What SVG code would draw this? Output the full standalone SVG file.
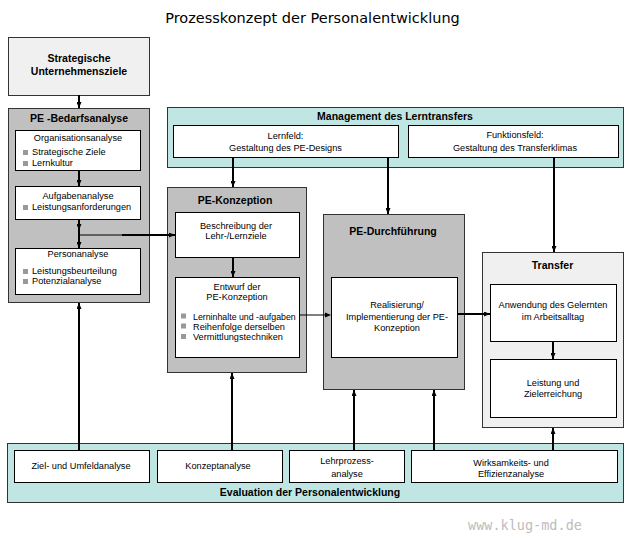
<svg xmlns="http://www.w3.org/2000/svg" width="632" height="539" viewBox="0 0 632 539">
<style>
.t{font-family:"Liberation Sans",Arial,sans-serif;font-size:9.2px;fill:#000}
.c{text-anchor:middle}
.b{font-family:"Liberation Sans",Arial,sans-serif;font-size:10.5px;font-weight:bold;fill:#000;text-anchor:middle}
.dk{fill:#c0c0c0;stroke:#333;stroke-width:1}
.lt{fill:#f0f0f0;stroke:#333;stroke-width:1}
.tl{fill:#c0e6e4;stroke:#333;stroke-width:1}
.wh{fill:#fff;stroke:#000;stroke-width:1}
.bu{fill:#999}
.a{fill:none;stroke:#000;stroke-width:2;marker-end:url(#ah)}
.n{fill:none;stroke:#000;stroke-width:1}
</style>
<defs>
<marker id="ah" markerUnits="userSpaceOnUse" markerWidth="6" markerHeight="5" refX="6" refY="2.5" orient="auto">
<path d="M0,0 L6,2.5 L0,5 z" fill="#000"/>
</marker>
</defs>
<rect width="632" height="539" fill="#fff"/>
<text x="312.5" y="23" style="font-family:'DejaVu Sans',Verdana,sans-serif;font-size:14.5px;text-anchor:middle;fill:#000">Prozesskonzept der Personalentwicklung</text>

<g id="strategische-ziele">
<rect class="lt" x="8.5" y="37.5" width="141" height="58"/>
<text class="b" x="79" y="61.5">Strategische</text>
<text class="b" x="79" y="75">Unternehmensziele</text>
</g>

<g id="pe-bedarfsanalyse">
<rect class="dk" x="8.5" y="108.5" width="141" height="194"/>
<text class="b" x="79" y="122">PE -Bedarfsanalyse</text>
<g id="organisationsanalyse">
<rect class="wh" x="15.5" y="130.5" width="125" height="40"/>
<text class="t c" x="78" y="140.5">Organisationsanalyse</text>
<rect class="bu" x="23" y="150" width="5" height="5"/>
<text class="t" x="32" y="155">Strategische Ziele</text>
<rect class="bu" x="23" y="161" width="5" height="5"/>
<text class="t" x="32" y="166">Lernkultur</text>
</g>
<g id="aufgabenanalyse">
<rect class="wh" x="15.5" y="186.5" width="125" height="33"/>
<text class="t c" x="78" y="198.5">Aufgabenanalyse</text>
<rect class="bu" x="23" y="205" width="5" height="5"/>
<text class="t" x="32" y="210">Leistungsanforderungen</text>
</g>
<g id="personanalyse">
<rect class="wh" x="15.5" y="248.5" width="125" height="46"/>
<text class="t c" x="78" y="257">Personanalyse</text>
<rect class="bu" x="23" y="269" width="5" height="5"/>
<text class="t" x="32" y="274">Leistungsbeurteilung</text>
<rect class="bu" x="23" y="279" width="5" height="5"/>
<text class="t" x="32" y="284">Potenzialanalyse</text>
</g>
</g>

<g id="management-lerntransfer">
<rect class="tl" x="167.5" y="107.5" width="456" height="60"/>
<text class="b" x="395" y="120">Management des Lerntransfers</text>
<g id="lernfeld">
<rect class="wh" x="173.5" y="125.5" width="225" height="32"/>
<text class="t c" x="285.5" y="138.5">Lernfeld:</text>
<text class="t c" x="285.5" y="150.5">Gestaltung des PE-Designs</text>
</g>
<g id="funktionsfeld">
<rect class="wh" x="408.5" y="125.5" width="210" height="32"/>
<text class="t c" x="515" y="137.5">Funktionsfeld:</text>
<text class="t c" x="515" y="150.5">Gestaltung des Transferklimas</text>
</g>
</g>

<g id="pe-konzeption">
<rect class="dk" x="167.5" y="187.5" width="139" height="185"/>
<text class="b" x="235" y="204">PE-Konzeption</text>
<g id="beschreibung">
<rect class="wh" x="175.5" y="212.5" width="124" height="45"/>
<text class="t c" x="236" y="228.5">Beschreibung der</text>
<text class="t c" x="236" y="239">Lehr-/Lernziele</text>
</g>
<g id="entwurf">
<rect class="wh" x="175.5" y="277.5" width="124" height="80"/>
<text class="t c" x="237" y="289.5">Entwurf der</text>
<text class="t c" x="237" y="300">PE-Konzeption</text>
<rect class="bu" x="181" y="313.5" width="5" height="5"/>
<text class="t" x="193" y="319.5" style="font-size:8.8px">Lerninhalte und -aufgaben</text>
<rect class="bu" x="181" y="323.5" width="5" height="5"/>
<text class="t" x="193" y="329.5">Reihenfolge derselben</text>
<rect class="bu" x="181" y="334" width="5" height="5"/>
<text class="t" x="193" y="340">Vermittlungstechniken</text>
</g>
</g>

<g id="pe-durchfuehrung">
<rect class="dk" x="323.5" y="214.5" width="141" height="175"/>
<text class="b" x="393" y="235">PE-Durchführung</text>
<g id="realisierung">
<rect class="wh" x="331.5" y="277.5" width="126" height="80"/>
<text class="t c" x="397" y="307.5">Realisierung/</text>
<text class="t c" x="397" y="319.5">Implementierung der PE-</text>
<text class="t c" x="397" y="330.5">Konzeption</text>
</g>
</g>

<g id="transfer">
<rect class="lt" x="482.5" y="252.5" width="141" height="175"/>
<text class="b" x="552.5" y="269">Transfer</text>
<g id="anwendung">
<rect class="wh" x="490.5" y="284.5" width="126" height="57"/>
<text class="t c" x="553" y="307.5">Anwendung des Gelernten</text>
<text class="t c" x="553" y="319.5">im Arbeitsalltag</text>
</g>
<g id="leistung">
<rect class="wh" x="490.5" y="359.5" width="126" height="58"/>
<text class="t c" x="553" y="385.5">Leistung und</text>
<text class="t c" x="553" y="396.5">Zielerreichung</text>
</g>
</g>

<g id="evaluation">
<rect class="tl" x="7.5" y="443.5" width="616" height="59"/>
<text class="b" x="310" y="495.5">Evaluation der Personalentwicklung</text>
<g id="ziel-umfeldanalyse">
<rect class="wh" x="14.5" y="450.5" width="135" height="32"/>
<text class="t c" x="81" y="468.5">Ziel- und Umfeldanalyse</text>
</g>
<g id="konzeptanalyse">
<rect class="wh" x="157.5" y="450.5" width="125" height="32"/>
<text class="t c" x="218" y="468.5">Konzeptanalyse</text>
</g>
<g id="lehrprozessanalyse">
<rect class="wh" x="289.5" y="450.5" width="115" height="32"/>
<text class="t c" x="347" y="463.5">Lehrprozess-</text>
<text class="t c" x="347" y="476.5">analyse</text>
</g>
<g id="wirksamkeitsanalyse">
<rect class="wh" x="411.5" y="450.5" width="206" height="32"/>
<text class="t c" x="511" y="465.5">Wirksamkeits- und</text>
<text class="t c" x="511" y="476.5">Effizienzanalyse</text>
</g>
</g>

<g id="connectors">
<path class="a" d="M79,95 V108"/>
<path class="a" d="M79,170 V186"/>
<path class="a" d="M79,219 V230"/>
<path class="a" d="M79,230 V248"/>
<path class="n" d="M79,235 H122"/>
<path class="a" d="M122,235 H175"/>
<path class="a" d="M233,157 V187"/>
<path class="a" d="M388,157 V214"/>
<path class="a" d="M554,157 V252"/>
<path class="a" d="M233,257 V277"/>
<path class="n" d="M299,315 H326"/>
<path d="M325,312.5 L331,315 L325,317.5 z" fill="#000"/>
<path class="a" d="M457,314 H490"/>
<path class="a" d="M553,341 V359"/>
<path class="a" d="M79,450 V303"/>
<path class="a" d="M232,450 V373"/>
<path class="a" d="M354,450 V390"/>
<path class="a" d="M434,450 V390"/>
<path class="a" d="M553,450 V428"/>
</g>

<text x="525" y="530" style="font-family:'DejaVu Sans Mono',monospace;font-size:13.5px;text-anchor:middle;fill:#bdbdbd">www.klug-md.de</text>
</svg>
